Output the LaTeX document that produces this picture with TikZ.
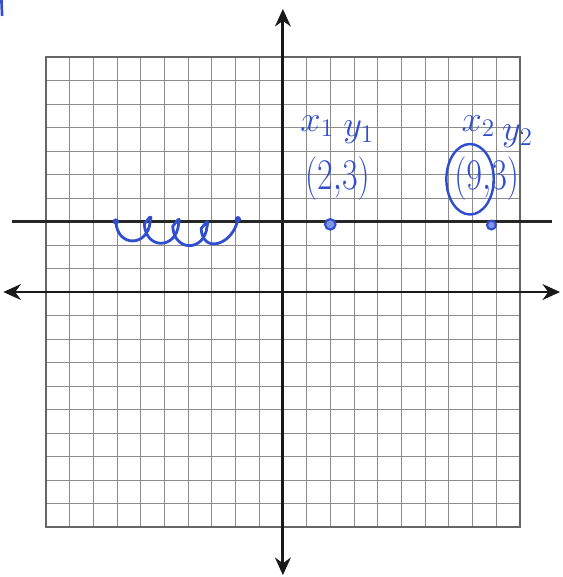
\documentclass[tikz,border=0pt]{standalone}
\usetikzlibrary{arrows.meta}
\definecolor{inkblue}{RGB}{48,78,205}
\begin{document}
\begin{tikzpicture}[x=0.474cm,y=0.470cm]
  \tikzset{
      > = {Stealth[length=10pt,width=9pt]},
      gridline/.style = {
          draw = black!45,
          line width = 0.5pt
      },
      axis/.style = {
          draw = black!90,
          line width = 1.6pt
      },
      level/.style = {
          draw = black!85,
          line width = 1.6pt
      },
      ink/.style = {
          text = inkblue,
          inner sep = 0pt
      },
      pen/.style = {
          draw = inkblue,
          line width = 1.6pt,
          line cap = round,
          line join = round
      },
      dot/.style = {
          shape = circle,
          draw = inkblue,
          fill = inkblue!60,
          line width = 1.2pt,
          inner sep = 0pt,
          minimum size = 6pt
      }
  }
  \useasboundingbox (-11.94,12.43) rectangle (11.81,-12.13);
  % graph paper
  \foreach \i in {-10,...,10} {
      \draw[gridline] (\i,-10) -- (\i,10);
      \draw[gridline] (-10,\i) -- (10,\i);
  }
  \draw[black!60, line width=0.8pt] (-10,-10) rectangle (10,10);
  % axes
  \coordinate (xl) at (-11.8,0);
  \coordinate (xr) at (11.7,0);
  \coordinate (yb) at (0,-12.05);
  \coordinate (yt) at (0,12.05);
  \draw[axis, <->] (xl) -- (xr);
  \draw[axis, <->] (yb) -- (yt);
  % the line y = 3
  \coordinate (ll) at (-11.45,3);
  \coordinate (lr) at (11.35,3);
  \draw[level] (ll) -- (lr);
  % points
  \node[dot] (p1) at (2,2.88) {};
  \node[dot, minimum size=5pt] (p2) at (8.8,2.85) {};
  % labels
  \node[ink] (x1) at (1.45,7.05) {\huge$x_1$};
  \node[ink] (y1) at (3.2,6.8) {\huge$y_1$};
  \node[ink] (c1) at (2.3,4.85) {\scalebox{0.78}[1]{\fontsize{30}{30}\selectfont$(2{,}3)$}};
  \node[ink] (x2) at (8.25,7.05) {\huge$x_2$};
  \node[ink] (y2) at (9.9,6.65) {\huge$y_2$};
  \node[ink] (c2) at (8.6,4.85) {\scalebox{0.78}[1]{\fontsize{30}{30}\selectfont$(9{,}3)$}};
  \draw[inkblue, line width=1.4pt] (7.9,4.8) ellipse (1.0 and 1.5);
  % squiggle
  \coordinate (sa) at (-7.05,3.0);
  \coordinate (sb) at (-1.9,3.1);
  \draw[pen] (sa)
      \foreach \k in {1,2,3} {
          .. controls +(0.05,-1.1) and +(-0.1,-1.1) .. ++(1.45,0)
          .. controls +(0.08,0.35) and +(0.25,0.3) .. ++(-0.25,-0.1)
      }
      .. controls +(0.05,-1.1) and +(-0.2,-1.1) .. (sb);
  \fill[inkblue] (sa) circle (1.8pt) (sb) circle (1.8pt);
  % corner mark
  \coordinate (ma) at (-11.88,12.43);
  \coordinate (mb) at (-11.85,11.75);
  \draw[inkblue, line width=1.5pt] (ma) -- (mb);
\end{tikzpicture}
\end{document}
